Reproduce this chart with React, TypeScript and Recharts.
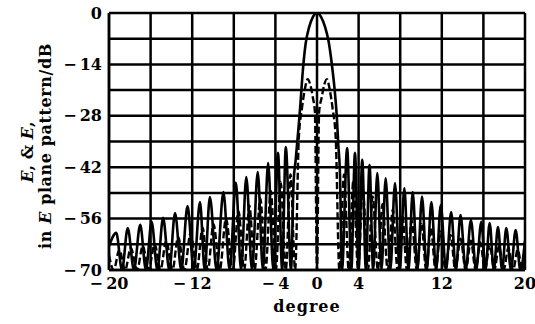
import { LineChart, Line, XAxis, YAxis, CartesianGrid } from 'recharts'

// [degree, dB]
const solidPattern: [number, number][] = [
  [-20, -63.5], [-19.3, -59.9], [-18.75, -70], [-18.2, -58.6], [-17.6, -70], [-17.0, -57.7],
  [-16.45, -70], [-15.9, -56.9], [-15.35, -70], [-14.8, -55.8], [-14.2, -70], [-13.65, -54.5],
  [-13.05, -70], [-12.45, -52.6], [-11.85, -70], [-11.25, -51.5], [-10.8, -70], [-10.3, -50.1],
  [-9.65, -70], [-9.0, -48.8], [-8.4, -70], [-7.8, -46.2], [-7.3, -70], [-6.8, -44.7],
  [-6.25, -70], [-5.7, -43.3], [-5.2, -70], [-4.7, -40.9], [-4.2, -70], [-3.75, -38.1],
  [-3.35, -70], [-3.0, -36.5], [-2.5, -70],
  [-2.25, -46], [-2.05, -40], [-1.8, -32], [-1.6, -25], [-1.4, -17], [-1.1, -8.5],
  [-0.75, -3.8], [-0.4, -1.1], [0, 0], [0.4, -1.1], [0.8, -4], [1.1, -7.5], [1.45, -14.5],
  [1.7, -21], [1.9, -28], [2.05, -36], [2.2, -43],
  [2.4, -70], [2.9, -36.8], [3.3, -70], [3.65, -38.1], [4.0, -70], [4.35, -40], [4.7, -70],
  [5.05, -41.4], [5.4, -70], [5.8, -43.6], [6.2, -70], [6.6, -45], [7.05, -70], [7.5, -46.3],
  [7.95, -70], [8.4, -47.7], [8.8, -70], [9.2, -48.8], [9.65, -70], [10.1, -50], [10.55, -70],
  [11.0, -51.5], [11.45, -70], [11.9, -52.3], [12.4, -70], [12.9, -54.2], [13.35, -70],
  [13.8, -55], [14.3, -70], [14.8, -56.4], [15.3, -70], [15.8, -56.9], [16.2, -70],
  [16.6, -57.2], [17.0, -70], [17.4, -58.3], [17.8, -70], [18.2, -58.6], [18.65, -70],
  [19.1, -59.1], [19.55, -70], [20, -62],
]

const dashedPattern: [number, number][] = [
  [-20, -66], [-19.55, -70], [-19.0, -64.5], [-18.45, -70], [-17.9, -64], [-17.3, -70],
  [-16.75, -63.5], [-16.2, -70], [-15.6, -63], [-15.05, -70], [-14.5, -62], [-13.9, -70],
  [-13.35, -61], [-12.75, -70], [-12.15, -60], [-11.55, -70], [-11.0, -58.5], [-10.5, -70],
  [-9.95, -57.5], [-9.35, -70], [-8.75, -56], [-8.1, -70], [-7.55, -54], [-7.0, -70],
  [-6.5, -52.5], [-6.0, -70], [-5.45, -50.5], [-4.95, -70], [-4.45, -48.5], [-3.95, -70],
  [-3.5, -46], [-3.0, -70], [-2.55, -44], [-2.1, -70],
  [-1.75, -34], [-1.45, -26], [-1.15, -20.5], [-0.9, -18], [-0.65, -19.5], [-0.4, -23],
  [-0.2, -27], [0, -70], [0.2, -27], [0.45, -23], [0.7, -19.5], [0.95, -18], [1.2, -20.5],
  [1.5, -26], [1.8, -34],
  [2.15, -70], [2.6, -44], [3.05, -70], [3.5, -45.5], [3.95, -70], [4.4, -48], [4.9, -70],
  [5.35, -50], [5.85, -70], [6.3, -52], [6.8, -70], [7.3, -53.5], [7.75, -70], [8.2, -55],
  [8.65, -70], [9.1, -56.5], [9.6, -70], [10.05, -57.5], [10.5, -70], [10.95, -58.5],
  [11.4, -70], [11.9, -59.5], [12.35, -70], [12.85, -60.5], [13.3, -70], [13.8, -61.5],
  [14.3, -70], [14.8, -62], [15.25, -70], [15.7, -62.5], [16.15, -70], [16.6, -63],
  [17.05, -70], [17.5, -63.5], [17.95, -70], [18.4, -64], [18.85, -70], [19.3, -64.5],
  [19.75, -70], [20, -66],
]

const xTicks = [-20, -16, -12, -8, -4, 0, 4, 8, 12, 16, 20]
const xLabeled = [-20, -12, -4, 0, 4, 12, 20]
const yTicks = [0, -7, -14, -21, -28, -35, -42, -49, -56, -63, -70]
const yLabeled = [0, -14, -28, -42, -56, -70]

const font = '"DejaVu Serif", "Liberation Serif", serif'
const tickStyle = { fontSize: 16, fontWeight: 700, fill: '#000', fontFamily: font }

function fmt(v: number) {
  if (v === 0) return '0'
  return v < 0 ? `\u2212\u2009${Math.abs(v)}` : `${v}`
}

const toPoints = (rows: [number, number][]) => rows.map(([deg, db]) => ({ deg, db }))

export default function App() {
  return (
    <div style={{ position: 'absolute', left: 0, top: 0, width: 535, height: 324, background: '#fff' }}>
      <LineChart width={535} height={324} margin={{ top: 13, right: 10, bottom: 0, left: 0 }}>
        <CartesianGrid stroke="#000" strokeWidth={2.5} />
        <XAxis
          type="number"
          dataKey="deg"
          domain={[-20, 20]}
          ticks={xTicks}
          tickFormatter={v => (xLabeled.includes(v) ? fmt(v) : '')}
          tick={tickStyle}
          tickLine={false}
          axisLine={{ stroke: '#000', strokeWidth: 2.5 }}
          tickSize={0}
          tickMargin={8}
          height={54}
          allowDataOverflow
        />
        <YAxis
          type="number"
          domain={[-70, 0]}
          ticks={yTicks}
          tickFormatter={v => (yLabeled.includes(v) ? fmt(v) : '')}
          tick={tickStyle}
          tickLine={false}
          axisLine={{ stroke: '#000', strokeWidth: 2.5 }}
          tickSize={0}
          tickMargin={7}
          width={109}
          allowDataOverflow
        />
        <Line
          data={toPoints(dashedPattern)}
          dataKey="db"
          type="monotone"
          stroke="#000"
          strokeWidth={2.4}
          strokeDasharray="7 3"
          dot={false}
          isAnimationActive={false}
        />
        <Line
          data={toPoints(solidPattern)}
          dataKey="db"
          type="monotone"
          stroke="#000"
          strokeWidth={2.6}
          dot={false}
          isAnimationActive={false}
        />
      </LineChart>
      <svg width={535} height={324} style={{ position: 'absolute', left: 0, top: 0, pointerEvents: 'none' }}>
        <g fontFamily={font} fontWeight={700} fontSize={16} fill="#000">
          <text x={27} y={152} textAnchor="middle" dominantBaseline="central" transform="rotate(-90 27 152)">
            <tspan fontStyle="italic">E</tspan>
            <tspan>, &amp; </tspan>
            <tspan fontStyle="italic">E</tspan>
            <tspan>,</tspan>
          </text>
          <text
            x={45}
            y={146}
            textAnchor="middle"
            dominantBaseline="central"
            letterSpacing={0.6}
            transform="rotate(-90 45 146)"
          >
            <tspan>in </tspan>
            <tspan fontStyle="italic">E</tspan>
            <tspan> plane pattern/dB</tspan>
          </text>
          <text x={307} y={306} textAnchor="middle" dominantBaseline="central" letterSpacing={1}>
            degree
          </text>
        </g>
      </svg>
    </div>
  )
}
